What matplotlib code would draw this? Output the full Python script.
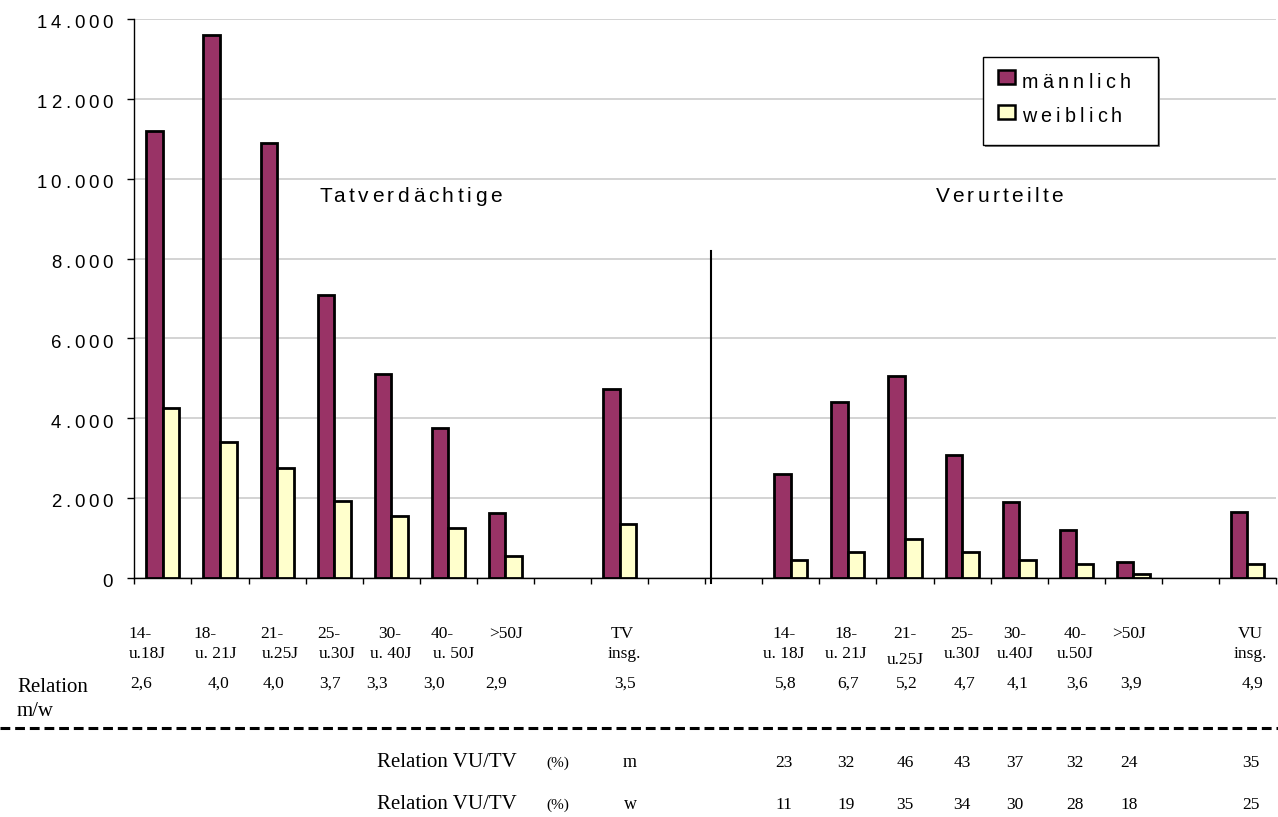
import numpy as np
import matplotlib
matplotlib.use("Agg")
import matplotlib.pyplot as plt
from matplotlib.font_manager import FontProperties
from matplotlib.patches import Rectangle
from matplotlib.lines import Line2D
from matplotlib.transforms import IdentityTransform

# ---------------------------------------------------------------- data
tv_groups = ["14-\nu.18J", "18-\nu. 21J", "21-\nu.25J", "25-\nu.30J",
             "30-\nu. 40J", "40-\nu. 50J", ">50J", "TV\ninsg."]
tv_m = [11200, 13600, 10900, 7100, 5100, 3750, 1625, 4730]
tv_w = [4250, 3400, 2750, 1925, 1550, 1250, 560, 1350]
tv_ratio = ["2,6", "4,0", "4,0", "3,7", "3,3", "3,0", "2,9", "3,5"]

vu_groups = ["14-\nu. 18J", "18-\nu. 21J", "21-\nu.25J", "25-\nu.30J",
             "30-\nu.40J", "40-\nu.50J", ">50J", "VU\ninsg."]
vu_m = [2600, 4400, 5050, 3080, 1900, 1200, 390, 1650]
vu_w = [450, 660, 970, 660, 460, 340, 100, 340]
vu_ratio = ["5,8", "6,7", "5,2", "4,7", "4,1", "3,6", "3,9", "4,9"]

vu_tv_m = [23, 32, 46, 43, 37, 32, 24, 35]
vu_tv_w = [11, 19, 35, 34, 30, 28, 18, 25]

y_ticks = [0, 2000, 4000, 6000, 8000, 10000, 12000, 14000]
series_names = ["männlich", "weiblich"]
section_titles = ["Tatverdächtige", "Verurteilte"]

# ---------------------------------------------------------------- style
MAROON = "#993366"
CREAM = "#FFFFCC"
SANS = ["Liberation Sans", "DejaVu Sans"]
SERIF = ["Liberation Serif", "DejaVu Serif"]

W, H = 1278, 817
fig = plt.figure(figsize=(W / 100, H / 100), dpi=100)
fig.patch.set_facecolor("white")
PX = IdentityTransform()

# category slots along the x axis (empty slots act as separators)
n_slots = 20
tv_slots = np.array([0, 1, 2, 3, 4, 5, 6, 8])
vu_slots = np.array([11, 12, 13, 14, 15, 16, 17, 19])
divider_slot = 9.6

ax_l, ax_r, ax_t, ax_b = 134.4, 1276.0, 19.0, 578.0
ax = fig.add_axes([ax_l / W, 1 - ax_b / H, (ax_r - ax_l) / W, (ax_b - ax_t) / H])
ax.set_xlim(-0.5, n_slots - 0.5)
ax.set_ylim(0, 14000)

bw = 0.29
bar_kw = dict(edgecolor="black", linewidth=2.0, zorder=3)
ax.bar(tv_slots - bw / 2, tv_m, bw, color=MAROON, **bar_kw)
ax.bar(tv_slots + bw / 2, tv_w, bw, color=CREAM, **bar_kw)
ax.bar(vu_slots - bw / 2, vu_m, bw, color=MAROON, **bar_kw)
ax.bar(vu_slots + bw / 2, vu_w, bw, color=CREAM, **bar_kw)

ax.set_yticks(y_ticks)
ax.yaxis.grid(True, color="#d0d0d0", linewidth=1.3)
ax.set_axisbelow(True)
ax.set_xticks(np.arange(-0.5, n_slots, 1.0))
ax.tick_params(axis="x", direction="out", length=4, width=1, labelbottom=False)
ax.tick_params(axis="y", direction="out", length=5, width=1, labelleft=False)
for side in ("top", "right"):
    ax.spines[side].set_visible(False)
for side in ("left", "bottom"):
    ax.spines[side].set_color("black")
    ax.spines[side].set_linewidth(1.0)

# vertical separator between the two blocks
ax.plot([divider_slot, divider_slot], [-120, 8200], color="black", lw=1.5,
        clip_on=False, zorder=4)

# ---------------------------------------------------------------- helpers
renderer = fig.canvas.get_renderer()


def ink_width(s, prop):
    return renderer.get_text_width_height_descent(s, prop, ismath=False)[0]


def tracked(x, y, s, size, track, ha="left", color="black"):
    """Letter-spaced text in pixel coordinates (y measured from the bottom)."""
    prop = FontProperties(family=SANS, size=size)
    offs = [ink_width(s[:i + 1], prop) - ink_width(s[i], prop) + i * track
            for i in range(len(s))]
    total = ink_width(s, prop) + (len(s) - 1) * track
    x0 = {"left": x, "right": x - total, "center": x - total / 2}[ha]
    for ch, o in zip(s, offs):
        fig.text(x0 + o, y, ch, fontproperties=prop, transform=PX,
                 ha="left", va="baseline", color=color)


def slot_px(slot):
    return ax.transData.transform((slot, 0))[0]


def serif(x, y_img, s, size, ha="center"):
    fig.text(x, H - y_img, s, family=SERIF, fontsize=size, transform=PX,
             ha=ha, va="baseline", color="black")


# ---------------------------------------------------------------- y tick labels
for v in y_ticks:
    lab = f"{v:,}".replace(",", ".")
    yd = ax.transData.transform((0, v))[1]
    tracked(113, yd - 9.3, lab, 13.4, 3.8, ha="right")

# section titles
tracked(319, H - 201.7, section_titles[0], 15.0, 3.6)
tracked(936, H - 201.7, section_titles[1], 15.0, 3.3)

# ---------------------------------------------------------------- legend
fig.add_artist(Rectangle((984.5, H - 146.5), 175, 88, transform=PX,
                         facecolor="#808080", edgecolor="none"))
fig.add_artist(Rectangle((983, H - 145), 175, 88, transform=PX,
                         facecolor="white", edgecolor="black", lw=1.0))
for i, (name, col) in enumerate(zip(series_names, [MAROON, CREAM])):
    top = 69.5 + i * 35
    fig.add_artist(Rectangle((998, H - top - 14), 17, 14, transform=PX,
                             facecolor=col, edgecolor="black", lw=1.8))
    tracked(1022, H - (87.7 + i * 34), name, 14.2, 4.2)

# ---------------------------------------------------------------- table below the axis
LBL, VAL = 12.5, 12.5
tv_row1_dx = [-23, -15, -5, -5, -2, -6, 1, 3]
tv_row2_dx = [-16, -4, 3, 3, -1, 5, 0, 5]
tv_val_dx = [-22, -2, -4, -4, -14, -14, -9, 5]
vu_dx = [-7, -2, 0, 0, -4, -1, -4, 3]
vu_row2_dy = [0, 0, 6, 0, 0, 0, 0, 0]

for k, s in enumerate(tv_slots):
    cx = slot_px(s)
    parts = tv_groups[k].split("\n")
    serif(cx + tv_row1_dx[k], 638, parts[0], LBL)
    if len(parts) > 1:
        serif(cx + tv_row2_dx[k], 658, parts[1], LBL)
    serif(cx + tv_val_dx[k], 688, tv_ratio[k], VAL)

for k, s in enumerate(vu_slots):
    cx = slot_px(s) + vu_dx[k]
    parts = vu_groups[k].split("\n")
    serif(cx, 638, parts[0], LBL)
    if len(parts) > 1:
        serif(cx, 658 + vu_row2_dy[k], parts[1], LBL)
    serif(cx + 2, 688, vu_ratio[k], VAL)
    serif(cx, 767, str(vu_tv_m[k]), VAL)
    serif(cx, 809, str(vu_tv_w[k]), VAL)

serif(17, 692, "Relation", 15, ha="left")
serif(17, 716, "m/w", 15, ha="left")

fig.add_artist(Line2D([0, W], [H - 728, H - 728], transform=PX, color="black",
                      lw=2.2, linestyle=(0, (3.2, 1.6))))

for y_img, sex in ((767, "m"), (809, "w")):
    serif(377, y_img, "Relation VU/TV", 15, ha="left")
    serif(546, y_img, "(%)", 11, ha="left")
    serif(630, y_img, sex, 13)

fig.savefig("out.png", dpi=100, facecolor="white")
